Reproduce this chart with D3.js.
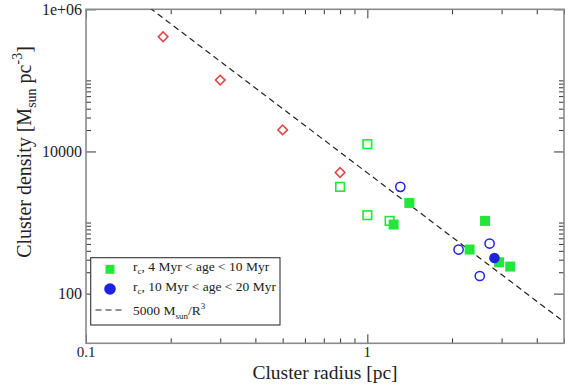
<!DOCTYPE html>
<html><head><meta charset="utf-8">
<script src="https://cdn.jsdelivr.net/npm/d3@7"></script>
<style>
html,body{margin:0;padding:0;background:#fff;}
svg{display:block;font-family:"Liberation Serif","Times New Roman",serif;}
</style></head>
<body><svg id="chart" width="570" height="388"></svg>
<script>
// ---- data ----
const xDomain = [0.1, 5];
const yDomain = [20, 1e6];
const xTickLabels = [0.1, 1];
const yTickLabels = [100, 10000, 1e6];
const yTickText = ["100", "10000", "1e+06"];
const xMinorTicks = [0.2,0.3,0.4,0.5,0.6,0.7,0.8,0.9,2,3,4,5];
const yMinorTicks = [200,300,400,500,600,700,800,900,1000,20000,30000,40000,50000,60000,70000,80000,90000,100000];

const redRadius   = [0.188, 0.30, 0.50, 0.80];
const redDensity  = [411000, 101000, 20100, 5060];
const greenOpenRadius  = [0.80, 1.00, 1.00, 1.20];
const greenOpenDensity = [3175, 12670, 1268, 1054];
const greenFillRadius  = [1.24, 1.41, 2.31, 2.62, 2.94, 3.22];
const greenFillDensity = [937, 1888, 417, 1054, 276, 240];
const blueOpenRadius  = [1.31, 2.11, 2.72, 2.51];
const blueOpenDensity = [3175, 417, 506, 177];
const blueFillRadius  = [2.83];
const blueFillDensity = [317];
const modelCoef = 5000;     // 5000 Msun / R^3
const modelRadius = [0.1, 5];

const legendLabels = ["4 Myr < age < 10 Myr", "10 Myr < age < 20 Myr"];

// ---- layout ----
const svg = d3.select("#chart");
const L = 86, R = 564, T = 9.3, B = 343.3;
const x = d3.scaleLog().domain(xDomain).range([L, R]);
const y = d3.scaleLog().domain(yDomain).range([B, T]);

const RED = "#e04848", GREEN = "#22e63a", BLUE = "#1c22e0";

// clip
svg.append("defs").append("clipPath").attr("id","clip")
  .append("rect").attr("x",L).attr("y",T).attr("width",R-L).attr("height",B-T);

// ticks (inside, on all four sides)
const tickCol = "#333";
function axisTicks(axisGen, transform, vals, size){
  const g = svg.append("g").attr("transform", transform)
    .call(axisGen.tickValues(vals).tickSize(size).tickFormat(""));
  g.select(".domain").remove();
  g.selectAll(".tick line").attr("stroke", tickCol).attr("stroke-width", 1);
}
axisTicks(d3.axisBottom(x), `translate(0,${B})`, xTickLabels, -9);
axisTicks(d3.axisBottom(x), `translate(0,${B})`, xMinorTicks, -5);
axisTicks(d3.axisTop(x), `translate(0,${T})`, xTickLabels, -9);
axisTicks(d3.axisTop(x), `translate(0,${T})`, xMinorTicks, -5);
axisTicks(d3.axisLeft(y), `translate(${L},0)`, yTickLabels, -10);
axisTicks(d3.axisLeft(y), `translate(${L},0)`, yMinorTicks, -5);
axisTicks(d3.axisRight(y), `translate(${R},0)`, yTickLabels, -10);
axisTicks(d3.axisRight(y), `translate(${R},0)`, yMinorTicks, -5);

// frame
svg.append("rect").attr("x",L).attr("y",T).attr("width",R-L).attr("height",B-T)
  .attr("fill","none").attr("stroke","#8a8a8a").attr("stroke-width",1.6);

// tick labels
svg.append("g").selectAll("text").data(xTickLabels).join("text")
  .attr("x", d => x(d)).attr("y", 356.5).attr("text-anchor","middle")
  .attr("font-size", 15).attr("fill","#222").text(d => d3.format("")(d));
svg.append("g").selectAll("text").data(yTickLabels).join("text")
  .attr("x", 82).attr("y", d => y(d) + 5.5).attr("text-anchor","end")
  .attr("font-size", 16).attr("fill","#222").text((d,i) => yTickText[i]);

// axis titles
svg.append("text").attr("x", 325).attr("y", 378.5).attr("text-anchor","middle")
  .attr("font-size", 19.5).attr("fill","#222").text("Cluster radius [pc]");
const yt = svg.append("text").attr("transform","translate(31,152) rotate(-90)")
  .attr("text-anchor","middle").attr("font-size",20).attr("fill","#222");
yt.append("tspan").text("Cluster density [M");
yt.append("tspan").attr("font-size",14).attr("dy",5).text("sun");
yt.append("tspan").attr("dy",-5).text(" pc");
yt.append("tspan").attr("font-size",14).attr("dy",-9).text("-3");
yt.append("tspan").attr("dy",9).text("]");

// model line
const plot = svg.append("g").attr("clip-path","url(#clip)");
const modelPts = d3.range(0, 101).map(i => {
  const r = modelRadius[0] * Math.pow(modelRadius[1]/modelRadius[0], i/100);
  return [r, modelCoef / (r*r*r)];
});
plot.append("path").datum(modelPts)
  .attr("d", d3.line().x(d => x(d[0])).y(d => y(d[1])))
  .attr("fill","none").attr("stroke","#222").attr("stroke-width",1.2)
  .attr("stroke-dasharray","6,4");

// markers
const zip = (a,b) => a.map((v,i) => [v, b[i]]);
plot.append("g").selectAll("path").data(zip(redRadius, redDensity)).join("path")
  .attr("transform", d => `translate(${x(d[0])},${y(d[1])}) rotate(45)`)
  .attr("d", d3.symbol().type(d3.symbolSquare).size(46))
  .attr("fill","none").attr("stroke",RED).attr("stroke-width",1.6);
plot.append("g").selectAll("rect").data(zip(greenOpenRadius, greenOpenDensity)).join("rect")
  .attr("x", d => x(d[0]) - 4.3).attr("y", d => y(d[1]) - 4.3)
  .attr("width", 8.6).attr("height", 8.6)
  .attr("fill","none").attr("stroke",GREEN).attr("stroke-width",1.6);
plot.append("g").selectAll("rect").data(zip(greenFillRadius, greenFillDensity)).join("rect")
  .attr("x", d => x(d[0]) - 5).attr("y", d => y(d[1]) - 5)
  .attr("width", 10).attr("height", 10).attr("fill",GREEN);
plot.append("g").selectAll("circle").data(zip(blueOpenRadius, blueOpenDensity)).join("circle")
  .attr("cx", d => x(d[0])).attr("cy", d => y(d[1])).attr("r", 4.6)
  .attr("fill","none").attr("stroke",BLUE).attr("stroke-width",1.5);
plot.append("g").selectAll("circle").data(zip(blueFillRadius, blueFillDensity)).join("circle")
  .attr("cx", d => x(d[0])).attr("cy", d => y(d[1])).attr("r", 5.3).attr("fill",BLUE);

// legend
const lg = svg.append("g");
lg.append("rect").attr("x",90.7).attr("y",257.7).attr("width",189.3).attr("height",67.3)
  .attr("fill","#fff").attr("stroke","#333").attr("stroke-width",1.1);
lg.append("rect").attr("x",105.5).attr("y",264.8).attr("width",9).attr("height",9).attr("fill",GREEN);
lg.append("circle").attr("cx",110).attr("cy",289).attr("r",5.8).attr("fill",BLUE);
lg.append("line").attr("x1",95.5).attr("x2",124).attr("y1",310).attr("y2",310)
  .attr("stroke","#222").attr("stroke-width",1.2).attr("stroke-dasharray","6,4");
[271, 291].forEach((by, i) => {
  const t = lg.append("text").attr("x",133).attr("y",by).attr("font-size",13.5).attr("fill","#222");
  t.append("tspan").text("r");
  t.append("tspan").attr("font-size",9).attr("dy",3).text("c");
  t.append("tspan").attr("dy",-3).text(", " + legendLabels[i]);
});
const t3 = lg.append("text").attr("x",133).attr("y",315).attr("font-size",13.5).attr("fill","#222");
t3.append("tspan").text("5000 M");
t3.append("tspan").attr("font-size",9).attr("dy",4).text("sun");
t3.append("tspan").attr("dy",-4).text("/R");
t3.append("tspan").attr("font-size",9).attr("dy",-6).text("3");
</script></body></html>
